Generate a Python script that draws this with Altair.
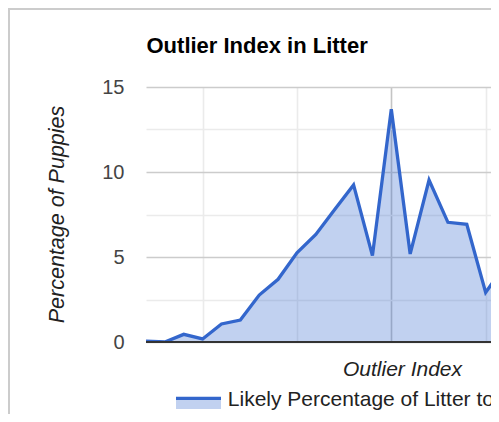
import altair as alt
import pandas as pd

# ---- data ----
outlier_index = [-13, -12, -11, -10, -9, -8, -7, -6, -5, -4, -3, -2, -1, 0, 1, 2, 3, 4, 5, 6]
pct_puppies = [0.05, 0.0, 0.45, 0.18, 1.06, 1.29, 2.76, 3.69, 5.25, 6.33, 7.8, 9.24,
               5.08, 13.69, 5.18, 9.53, 7.04, 6.92, 2.92, 4.48]
y_grid_values = [0, 2.5, 5, 7.5, 10, 12.5, 15]
x_grid_values = [-10, -5, 0, 5]
series_name = "Likely Percentage of Litter to be Outliers"
chart_title = "Outlier Index in Litter"
x_title = "Outlier Index"
y_title = "Percentage of Puppies"

FONT = "Liberation Sans, Arial, sans-serif"
BLUE = "#3366cc"

W, H = 345, 255
X_MIN = -13
PX_PER_UNIT = 18.87
X_MAX = X_MIN + W / PX_PER_UNIT

df = pd.DataFrame({"x": outlier_index, "y": pct_puppies})
one = pd.DataFrame({"series": [series_name], "title": [chart_title]})

xscale = alt.Scale(domain=[X_MIN, X_MAX], nice=False, zero=False)
yscale = alt.Scale(domain=[0, 15], nice=False)

xaxis = alt.Axis(
    values=x_grid_values, labels=False, ticks=False, domain=False, grid=True,
    gridColor={"condition": {"test": "datum.value === 0", "value": "#c4c4c4"}, "value": "#ebebeb"},
    gridWidth=1.6,
    title=x_title, titleFont=FONT, titleFontSize=21, titleFontStyle="italic",
    titleFontWeight="normal", titleColor="#222222",
    titleX=256, titleY=33, titleAlign="center", titleBaseline="alphabetic",
)
yaxis = alt.Axis(
    values=y_grid_values, ticks=False, domain=False, grid=True,
    gridColor={"condition": {"test": "datum.value % 5 === 0", "value": "#cccccc"}, "value": "#ebebeb"},
    gridWidth=1.6,
    labelExpr="datum.value % 5 === 0 ? format(datum.value, 'd') : ''",
    labelFont=FONT, labelFontSize=20, labelColor="#444444", labelPadding=22,
    title=y_title, titleFont=FONT, titleFontSize=21.5, titleFontStyle="italic",
    titleFontWeight="normal", titleColor="#222222",
    titleX=-83, titleY=127, titleAngle=270, titleAlign="center", titleBaseline="alphabetic",
)

base = alt.Chart(df)
deco = alt.Chart(one)

area = base.mark_area(color=BLUE, opacity=0.3, clip=True).encode(
    x=alt.X("x:Q", scale=xscale, axis=xaxis),
    y=alt.Y("y:Q", scale=yscale, axis=yaxis),
)
line = base.mark_line(color=BLUE, strokeWidth=3.3, clip=True).encode(
    x=alt.X("x:Q", scale=xscale),
    y=alt.Y("y:Q", scale=yscale),
)
baseline = deco.mark_rule(color="#333333", strokeWidth=2).encode(
    y=alt.datum(0, scale=yscale)
)

# ---- decorations: frame, title and legend ----
frame_left = deco.mark_rule(color="#cccccc", strokeWidth=2).encode(
    x=alt.value(-137), y=alt.value(-79), y2=alt.value(330)
)
frame_top = deco.mark_rule(color="#cccccc", strokeWidth=2).encode(
    x=alt.value(-137), x2=alt.value(350), y=alt.value(-78)
)
title_text = deco.mark_text(
    font=FONT, fontSize=22, fontWeight="bold", color="#000000",
    align="left", baseline="alphabetic"
).encode(text="title:N", x=alt.value(0.5), y=alt.value(-33.7))
legend_fill = deco.mark_rect(color=BLUE, opacity=0.3).encode(
    x=alt.value(30), x2=alt.value(75), y=alt.value(312.8), y2=alt.value(322)
)
legend_line = deco.mark_rule(color=BLUE, strokeWidth=3.3).encode(
    x=alt.value(30), x2=alt.value(75), y=alt.value(311.3)
)
legend_text = deco.mark_text(
    font=FONT, fontSize=21, color="#222222", align="left", baseline="alphabetic"
).encode(text="series:N", x=alt.value(81.8), y=alt.value(318.7))

chart = alt.layer(
    area, line, baseline, frame_left, frame_top, title_text,
    legend_fill, legend_line, legend_text
).properties(
    width=W, height=H,
    autosize=alt.AutoSizeParams(type="none"),
    padding={"left": 138, "top": 79, "right": 0, "bottom": 72},
    background="white",
).configure_view(stroke=None)

chart.save("out.html", embed_options={"renderer": "svg", "actions": False})
